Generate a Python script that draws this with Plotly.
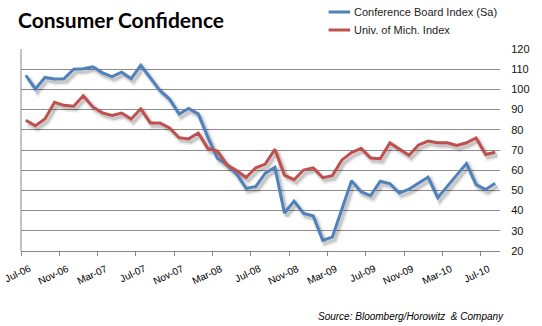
import plotly.graph_objects as go

# Monthly readings, Jul-2006 .. Aug-2010
months = [
    "Jul-06", "Aug-06", "Sep-06", "Oct-06", "Nov-06", "Dec-06",
    "Jan-07", "Feb-07", "Mar-07", "Apr-07", "May-07", "Jun-07",
    "Jul-07", "Aug-07", "Sep-07", "Oct-07", "Nov-07", "Dec-07",
    "Jan-08", "Feb-08", "Mar-08", "Apr-08", "May-08", "Jun-08",
    "Jul-08", "Aug-08", "Sep-08", "Oct-08", "Nov-08", "Dec-08",
    "Jan-09", "Feb-09", "Mar-09", "Apr-09", "May-09", "Jun-09",
    "Jul-09", "Aug-09", "Sep-09", "Oct-09", "Nov-09", "Dec-09",
    "Jan-10", "Feb-10", "Mar-10", "Apr-10", "May-10", "Jun-10",
    "Jul-10", "Aug-10",
]

conference_board = [
    107.0, 100.2, 105.9, 105.1, 105.3, 110.0,
    110.2, 111.2, 108.2, 106.3, 108.5, 105.3,
    111.9, 105.6, 99.5, 95.2, 87.8, 90.6,
    87.9, 76.4, 65.9, 62.8, 58.1, 51.0,
    51.9, 58.5, 61.4, 38.8, 44.7, 38.6,
    37.4, 25.3, 26.9, 40.8, 54.8, 49.3,
    47.4, 54.5, 53.4, 48.7, 50.6, 53.6,
    56.5, 46.4, 52.3, 57.7, 63.3, 52.9,
    50.4, 53.5,
]

univ_michigan = [
    84.7, 82.0, 85.4, 93.6, 92.1, 91.7,
    96.9, 91.3, 88.4, 87.1, 88.3, 85.3,
    90.4, 83.4, 83.4, 80.9, 76.1, 75.5,
    78.4, 70.8, 69.5, 62.6, 59.8, 56.4,
    61.2, 63.0, 70.3, 57.6, 55.3, 60.1,
    61.2, 56.3, 57.3, 65.1, 68.7, 70.8,
    66.0, 65.7, 73.5, 70.6, 67.4, 72.5,
    74.4, 73.6, 73.6, 72.2, 73.6, 76.0,
    67.8, 68.9,
]

tick_labels = ["Jul-06", "Nov-06", "Mar-07", "Jul-07", "Nov-07", "Mar-08",
               "Jul-08", "Nov-08", "Mar-09", "Jul-09", "Nov-09", "Mar-10",
               "Jul-10"]
y_ticks = [20, 30, 40, 50, 60, 70, 80, 90, 100, 110, 120]

series_names = ["Conference Board Index (Sa)", "Univ. of Mich. Index"]
series_values = [conference_board, univ_michigan]
series_colors = ["#4F81BD", "#C0504D"]

x = list(range(len(months)))
# category boundaries carry the tick marks (every fourth month)
tick_pos = [months.index(t) - 0.5 for t in tick_labels]

fig = go.Figure()

# soft drop shadow under each line
for vals in series_values:
    xs = [v + 0.25 for v in x]
    ys = [v - 1.5 for v in vals]
    fig.add_trace(go.Scatter(x=xs, y=ys, mode="lines", showlegend=False,
                             hoverinfo="skip",
                             line=dict(color="rgba(0,0,0,0.08)", width=7)))
    fig.add_trace(go.Scatter(x=xs, y=ys, mode="lines", showlegend=False,
                             hoverinfo="skip",
                             line=dict(color="rgba(0,0,0,0.15)", width=3.5)))

for name, vals, color in zip(series_names, series_values, series_colors):
    fig.add_trace(go.Scatter(x=x, y=vals, mode="lines", name=name,
                             text=months, showlegend=False,
                             line=dict(color=color, width=3)))

# plot area in pixels, used to place the legend and captions
L, T, W, H = 21, 49, 489, 202


def px_x(p):
    return (p - L) / W


def px_y(p):
    return 1 - (p - T) / H


shapes = [dict(type="line", xref="paper", yref="paper",
               x0=0, x1=0, y0=0, y1=1,
               line=dict(color="#868686", width=1))]
annotations = [
    dict(text="<b>Consumer Confidence</b>", xref="paper", yref="paper",
         x=px_x(16), y=px_y(5), xanchor="left", yanchor="top",
         showarrow=False,
         font=dict(family="Lato, sans-serif", size=21, color="#000000")),
    dict(text="<i>Source: Bloomberg/Horowitz  & Company</i>",
         xref="paper", yref="paper", x=px_x(516), y=px_y(316),
         xanchor="right", yanchor="middle", showarrow=False,
         font=dict(family="Liberation Sans, Arial, sans-serif", size=10,
                   color="#000000")),
]

# slanted month labels, hanging just right of each tick mark
for pos, lab in zip(tick_pos, tick_labels):
    annotations.append(dict(text=lab, xref="x", yref="paper",
                            x=pos, xshift=13, y=px_y(261),
                            xanchor="right", yanchor="top",
                            textangle=-25, showarrow=False, borderpad=0,
                            font=dict(size=10, color="#000000")))

# legend: short line sample plus label for each series
for i, (name, color) in enumerate(zip(series_names, series_colors)):
    yc = 12 + 18 * i
    shapes.append(dict(type="line", xref="paper", yref="paper",
                       x0=px_x(335), x1=px_x(357), y0=px_y(yc), y1=px_y(yc),
                       line=dict(color=color, width=3)))
    annotations.append(dict(text=name, xref="paper", yref="paper",
                            x=px_x(359), y=px_y(yc), xanchor="left",
                            yanchor="middle", showarrow=False,
                            font=dict(size=11, color="#222222")))

fig.update_layout(
    width=542, height=326,
    margin=dict(l=L, r=542 - L - W, t=T, b=326 - T - H),
    paper_bgcolor="white", plot_bgcolor="white",
    font=dict(family="Liberation Sans, Arial, sans-serif", size=11, color="#1a1a1a"),
    showlegend=False,
    xaxis=dict(range=[-0.5, len(months) - 0.5],
               tickmode="array", tickvals=tick_pos, showticklabels=False,
               ticks="outside", ticklen=4, tickcolor="#868686",
               showgrid=False, zeroline=False,
               showline=True, linecolor="#868686", linewidth=1),
    yaxis=dict(range=[20, 120], side="right",
               tickmode="array", tickvals=y_ticks,
               showgrid=True, gridcolor="#8c8c8c", gridwidth=1,
               zeroline=False, showline=False,
               ticks="outside", ticklen=8, tickcolor="rgba(0,0,0,0)",
               tickfont=dict(size=11, color="#111111")),
    shapes=shapes,
    annotations=annotations,
)

fig.write_html("out.html")
